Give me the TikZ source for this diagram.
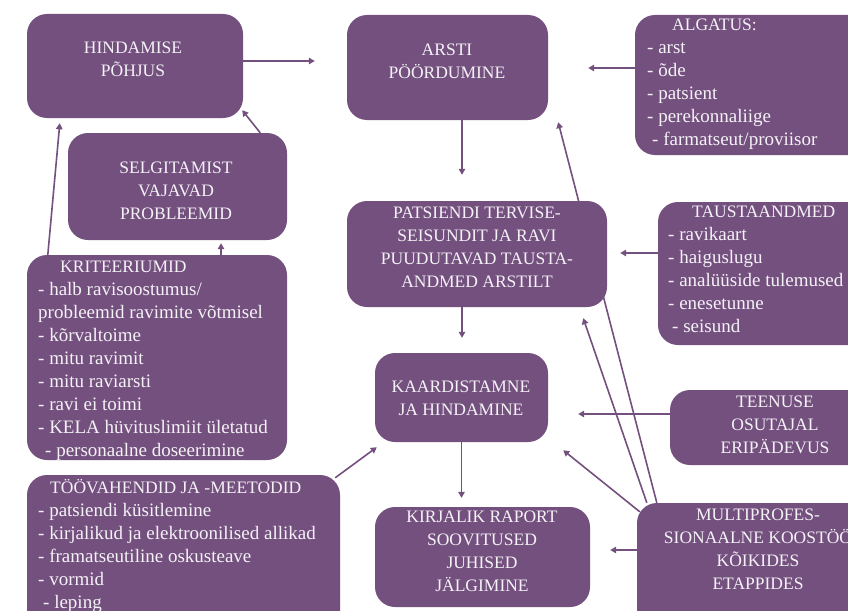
\documentclass[tikz,border=0pt]{standalone}
\usepackage{fontspec}
\setmainfont{Liberation Serif}
\usetikzlibrary{arrows.meta,backgrounds}
\definecolor{boxpurple}{RGB}{116,80,127}
\definecolor{boxtext}{RGB}{244,242,246}
\newcommand{\capsfont}{\fontsize{17.5}{23}\selectfont}
\newcommand{\listfont}{\fontsize{19}{23}\selectfont}
\begin{document}
\begin{tikzpicture}[x=1pt,y=-1pt,
  box/.style={draw=none, fill=boxpurple, rounded corners=20pt, inner sep=0pt, rectangle},
  captext/.style={text=boxtext, font=\capsfont, align=center, anchor=north, inner sep=0pt},
  listtext/.style={text=boxtext, font=\listfont, align=left, anchor=north west, inner sep=0pt},
  arr/.style={draw=boxpurple, line width=1.6pt, -{Triangle[length=6pt,width=6.5pt]}},
]
\useasboundingbox (0,0) rectangle (848,610);

% boxes
\node[box, minimum width=216pt, minimum height=104pt] (hp) at (135,66) {};
\node[captext] (hpt) at (133,37.5) {\strut HINDAMISE\\PÕHJUS};

\node[box, minimum width=201pt, minimum height=105pt] (ap) at (447.5,67.5) {};
\node[captext] (apt) at (447,39.5) {\strut ARSTI\\PÖÖRDUMINE};

\node[box, minimum width=270pt, minimum height=140pt] (alg) at (770,85) {};
\node[listtext] (algt) at (647,14.5) {{\capsfont\hspace*{25pt}\strut ALGATUS:}\\- arst\\- õde\\- patsient\\- perekonnaliige\\\hspace*{5pt}- farmatseut/proviisor};

\node[box, minimum width=219pt, minimum height=107pt] (sel) at (177.5,186.5) {};
\node[captext] (selt) at (176,157.5) {\strut SELGITAMIST\\VAJAVAD\\PROBLEEMID};

\node[box, minimum width=260pt, minimum height=106pt] (pat) at (477,254) {};
\node[captext] (patt) at (477,202.5) {\strut PATSIENDI TERVISE-\\SEISUNDIT JA RAVI\\PUUDUTAVAD TAUSTA-\\ANDMED ARSTILT};

\node[box, minimum width=252pt, minimum height=143pt] (tau) at (784,273.5) {};
\node[listtext] (taut) at (668,201.5) {{\capsfont\hspace*{24pt}\strut TAUSTAANDMED}\\- ravikaart\\- haiguslugu\\- analüüside tulemused\\- enesetunne\\\hspace*{4pt}- seisund};

\node[box, minimum width=260pt, minimum height=205pt] (kri) at (157,357.5) {};
\node[listtext] (krit) at (38,256.5) {{\capsfont\hspace*{22pt}\strut KRITEERIUMID}\\- halb ravisoostumus/\\probleemid ravimite võtmisel\\- kõrvaltoime\\- mitu ravimit\\- mitu raviarsti\\- ravi ei toimi\\- KELA hüvituslimiit ületatud\\\hspace*{7pt}- personaalne doseerimine};

\node[box, minimum width=173pt, minimum height=89pt] (kaa) at (461.5,397.5) {};
\node[captext] (kaat) at (461,376.5) {\strut KAARDISTAMNE\\JA HINDAMINE};

\node[box, minimum width=210pt, minimum height=75pt] (tee) at (775,427.5) {};
\node[captext] (teet) at (775,391.5) {\strut TEENUSE\\OSUTAJAL\\ERIPÄDEVUS};

\node[box, minimum width=313pt, minimum height=165pt] (too) at (183.5,557.5) {};
\node[listtext] (toot) at (38,477.5) {{\capsfont\hspace*{12pt}\strut TÖÖVAHENDID JA -MEETODID}\\- patsiendi küsitlemine\\- kirjalikud ja elektroonilised allikad\\- framatseutiline oskusteave\\- vormid\\\hspace*{5pt}- leping};

\node[box, minimum width=215pt, minimum height=100pt] (kir) at (482.5,557) {};
\node[captext] (kirt) at (482,506.5) {\strut KIRJALIK RAPORT\\SOOVITUSED\\JUHISED\\JÄLGIMINE};

\node[box, minimum width=253pt, minimum height=147pt] (mul) at (763.5,576.5) {};
\node[captext] (mult) at (758,504.5) {\strut MULTIPROFES-\\SIONAALNE KOOSTÖÖ\\KÕIKIDES\\ETAPPIDES};

% helper coordinates
\coordinate (s1) at ([yshift=5pt]hp.east);
\coordinate (s2) at ([yshift=17pt]alg.west);
\coordinate (s3) at ([xshift=14.5pt]ap.south);
\coordinate (s4) at ([yshift=20.5pt]tau.west);
\coordinate (s5) at ([xshift=-15pt]pat.south);
\coordinate (s7) at ([yshift=13.5pt]tee.west);
\coordinate (s8) at ([yshift=26.5pt]mul.west);
\coordinate (s14) at ([xshift=64pt]kri.north);

\begin{pgfonlayer}{background}
\fill[white] (0,0) rectangle (848,610);
\draw[arr, shorten >=32pt] (s1) -- (s1 -| ap.west);
\draw[arr, shorten >=40pt] (s2) -- (s2 -| ap.east);
\draw[arr, shorten >=26pt] (s3) -- (s3 |- pat.north);
\draw[arr, shorten >=13pt] (s4) -- (s4 -| pat.east);
\draw[arr, shorten >=15pt] (s5) -- (s5 |- kaa.north);
\draw[arr, shorten >=9pt] (kaa.south) -- (kaa.south |- kir.north);
\draw[arr, shorten >=30pt] (s7) -- (s7 -| kaa.east);
\draw[arr, shorten >=20pt] (s8) -- (s8 -| kir.east);
\draw[arr] ([xshift=20pt]mul.north west) -- ([xshift=10pt,yshift=-2pt]ap.south east);
\draw[arr] ([xshift=10pt]mul.north west) -- ([xshift=-24pt,yshift=-11pt]pat.south east);
\draw[arr] ([xshift=3pt,yshift=-9pt]mul.north west) -- ([xshift=15pt,yshift=-8pt]kaa.south east);
\draw[arr] ([xshift=-5pt,yshift=-3pt]too.north east) -- ([xshift=2pt,yshift=-5pt]kaa.south west);
\draw[arr] ([xshift=21pt]kri.north west) -- ([xshift=33pt,yshift=-5pt]hp.south west);
\draw[arr, shorten >=3pt] (s14) -- (s14 |- sel.south);
\draw[arr] ([xshift=-27pt]sel.north east) -- ([xshift=-1pt,yshift=8pt]hp.south east);
\end{pgfonlayer}
\end{tikzpicture}
\end{document}
